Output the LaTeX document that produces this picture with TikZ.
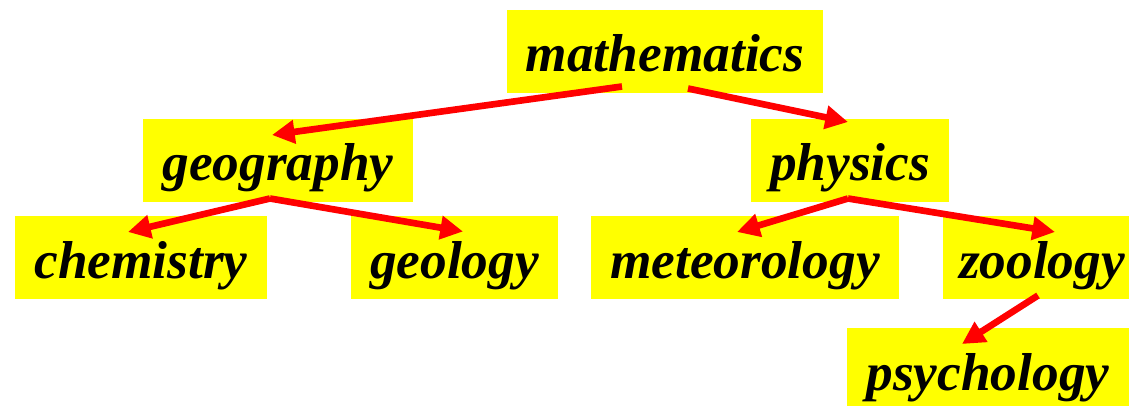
\documentclass[tikz,border=0pt]{standalone}
\usepackage{fontspec}
\setmainfont{Liberation Serif}
\usetikzlibrary{calc,arrows.meta}
\definecolor{boxyellow}{RGB}{255,255,0}
\definecolor{arrred}{RGB}{255,0,0}
\begin{document}
\begin{tikzpicture}[x=0.75pt,y=-0.75pt,
  topic/.style={fill=boxyellow,inner sep=0pt,text height=46.5pt,text depth=15.75pt,
    font=\fontsize{40}{48}\selectfont\bfseries\itshape,text=black},
  arr/.style={draw=arrred,line width=5pt,-{Triangle[length=17pt,width=17pt]}}]
\useasboundingbox (0,0) rectangle (1129,406);
\clip (0,0) rectangle (1129,406);
\node[topic,minimum width=237pt] (math) at (665,51.5) {mathematics};
\node[topic,minimum width=202.5pt] (geo) at (278,160.5) {geography};
\node[topic,minimum width=148.5pt] (phys) at (850,160.5) {physics};
\node[topic,minimum width=189pt] (chem) at (141,257.5) {chemistry};
\node[topic,minimum width=155.25pt] (geol) at (454.5,257.5) {geology};
\node[topic,minimum width=231pt] (met) at (745,257.5) {meteorology};
\node[topic,minimum width=148.5pt] (zoo) at (1042,257.5) {zoology};
\node[topic,minimum width=211.5pt] (psy) at (988,369.5) {psychology};
\draw[arr] ($(math.center)+(-43,35)$) -- ($(geo.center)+(-6,-25.5)$);
\draw[arr] ($(math.center)+(23,37)$) -- ($(phys.center)+(-2,-38.5)$);
\draw[arr] ($(geo.center)+(-8,38)$) -- ($(chem.center)+(-13,-25.5)$);
\draw[arr] ($(geo.center)+(-8,38)$) -- ($(geol.center)+(8.5,-26)$);
\draw[arr] ($(phys.center)+(-2,38)$) -- ($(met.center)+(-8,-25.5)$);
\draw[arr] ($(phys.center)+(-2,38)$) -- ($(zoo.center)+(13,-25.5)$);
\draw[arr] ($(zoo.center)+(-4,38)$) -- ($(psy.center)+(-26,-25.5)$);
\end{tikzpicture}
\end{document}
